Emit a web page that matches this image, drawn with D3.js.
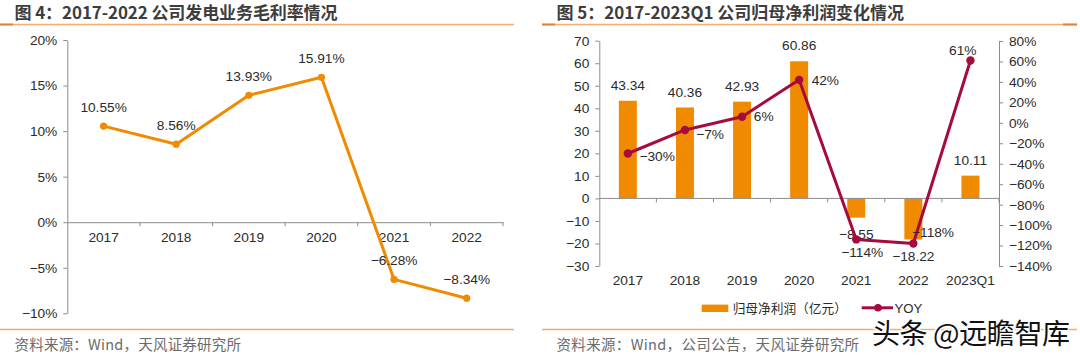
<!DOCTYPE html>
<html><head><meta charset="utf-8">
<script src="https://cdn.jsdelivr.net/npm/d3@7"></script>
<style>
html,body{margin:0;padding:0;background:#fff;}
svg{display:block;}
text{font-family:"Liberation Sans",Arial,"Noto Sans CJK SC",sans-serif;}
.cjk{font-family:"Noto Sans CJK SC","Liberation Sans",sans-serif;}
</style></head>
<body>
<svg id="c" width="1080" height="357"></svg>
<script>
// ---- data ----
const marginYears = ["2017","2018","2019","2020","2021","2022"];
const grossMargin = [10.55, 8.56, 13.93, 15.91, -6.28, -8.34];
const marginTicks = [20, 15, 10, 5, 0, -5, -10];

const profitCats = ["2017","2018","2019","2020","2021","2022","2023Q1"];
const netProfit = [43.34, 40.36, 42.93, 60.86, -8.55, -18.22, 10.11];
const yoyPct = [-30, -7, 6, 42, -114, -118, 61];
const profitTicks = [70, 60, 50, 40, 30, 20, 10, 0, -10, -20, -30];
const yoyTicks = [80, 60, 40, 20, 0, -20, -40, -60, -80, -100, -120, -140];

const titleLeft = "图 4：2017-2022 公司发电业务毛利率情况";
const titleRight = "图 5：2017-2023Q1 公司归母净利润变化情况";
const sourceLeft = "资料来源：Wind，天风证券研究所";
const sourceRight = "资料来源：Wind，公司公告，天风证券研究所";
const legendBar = "归母净利润（亿元）";
const legendLine = "YOY";
const watermark = "头条 @远瞻智库";

// ---- styles ----
const ORANGE = "#F08A00";
const CRIMSON = "#A50B3C";
const AXIS = "#8c8c8c";
const TXT = "#2b2b2b";
const RULE = "#F7AC6E";
const RULE_DARK = "#E9802F";
const FS = 13.7;

const svg = d3.select("#c");
const minus = s => String(s).replace("-", "−");

// ---- frames (titles, rules, sources) ----
function frame(x0, x1, title, src, titleW, srcW, darkEnd) {
  svg.append("line").attr("x1", x0).attr("x2", x1).attr("y1", 24.5).attr("y2", 24.5)
    .attr("stroke", RULE).attr("stroke-width", 1.5);
  svg.append("line").attr("x1", x0).attr("x2", x0 + 13).attr("y1", 24.5).attr("y2", 24.5)
    .attr("stroke", RULE_DARK).attr("stroke-width", 2);
  if (darkEnd) svg.append("line").attr("x1", x1 - 14).attr("x2", x1).attr("y1", 24.5).attr("y2", 24.5)
    .attr("stroke", RULE_DARK).attr("stroke-width", 2);
  svg.append("line").attr("x1", x0).attr("x2", x1).attr("y1", 329.5).attr("y2", 329.5)
    .attr("stroke", RULE).attr("stroke-width", 1.5);
  svg.append("text").attr("class", "cjk").attr("x", x0 + 14.5).attr("y", 18.5)
    .attr("font-size", 17).attr("font-weight", 700).attr("fill", "#3d3d3d")
    .attr("textLength", titleW).attr("lengthAdjust", "spacing").text(title);
  svg.append("text").attr("class", "cjk").attr("x", x0 + 14.5).attr("y", 349.5)
    .attr("font-size", 14.5).attr("fill", "#6b6b6b")
    .attr("textLength", srcW).attr("lengthAdjust", "spacing").text(src);
}
frame(0, 514, titleLeft, sourceLeft, 323, 226.5, false);
frame(542, 1077, titleRight, sourceRight, 347.5, 302.6, true);

// ---- left chart: gross margin line ----
{
  const x = d3.scaleBand().domain(marginYears).range([67.3, 503]);
  const y = d3.scaleLinear().domain([-10, 20]).range([313.3, 40]);
  const g = svg.append("g");

  const ya = g.append("g").attr("transform", "translate(67.3,0)")
    .call(d3.axisLeft(y).tickValues(marginTicks).tickSize(4).tickSizeOuter(0).tickPadding(6)
      .tickFormat(d => minus(d) + "%"));
  ya.selectAll("path,line").attr("stroke", AXIS);
  ya.selectAll("text").attr("font-size", FS).attr("fill", TXT).attr("font-family", null);

  const xa = g.append("g").attr("transform", `translate(0,${y(0)})`)
    .call(d3.axisBottom(x).tickSize(0).tickSizeOuter(0).tickPadding(10));
  xa.selectAll("path").attr("stroke", AXIS);
  xa.selectAll("text").attr("font-size", FS).attr("fill", TXT).attr("font-family", null);
  const bounds = marginYears.map(d => x(d) + x.bandwidth());
  g.selectAll(".bt").data(bounds).join("line")
    .attr("x1", d => d).attr("x2", d => d).attr("y1", y(0)).attr("y2", y(0) + 4).attr("stroke", AXIS);

  const pts = marginYears.map((d, i) => [x(d) + x.bandwidth() / 2, y(grossMargin[i])]);
  g.append("path").attr("d", d3.line()(pts)).attr("fill", "none")
    .attr("stroke", ORANGE).attr("stroke-width", 3).attr("stroke-linejoin", "round");
  g.selectAll(".pt").data(pts).join("circle").attr("cx", d => d[0]).attr("cy", d => d[1])
    .attr("r", 3.6).attr("fill", ORANGE);
  g.selectAll(".lb").data(pts).join("text").attr("x", d => d[0]).attr("y", d => d[1] - 14.2)
    .attr("text-anchor", "middle").attr("font-size", FS).attr("fill", TXT)
    .text((d, i) => minus(grossMargin[i].toFixed(2)) + "%");
}

// ---- right chart: net profit bars + YOY line ----
{
  const x = d3.scaleBand().domain(profitCats).range([599.3, 999]);
  const y = d3.scaleLinear().domain([-30, 70]).range([266, 40.7]);
  const y2 = d3.scaleLinear().domain([-140, 80]).range([266, 41]);
  const g = svg.append("g");

  const ya = g.append("g").attr("transform", "translate(599.3,0)")
    .call(d3.axisLeft(y).tickValues(profitTicks).tickSize(4).tickSizeOuter(0).tickPadding(6)
      .tickFormat(d => minus(d)));
  ya.selectAll("path,line").attr("stroke", AXIS);
  ya.selectAll("text").attr("font-size", FS).attr("fill", TXT).attr("font-family", null);

  const ya2 = g.append("g").attr("transform", "translate(999,0)")
    .call(d3.axisRight(y2).tickValues(yoyTicks).tickSize(4).tickSizeOuter(0).tickPadding(6)
      .tickFormat(d => minus(d) + "%"));
  ya2.selectAll("path,line").attr("stroke", AXIS);
  ya2.selectAll("text").attr("font-size", FS).attr("fill", TXT).attr("font-family", null);

  // category labels at bottom
  const xl = g.append("g").attr("transform", "translate(0,266)")
    .call(d3.axisBottom(x).tickSize(0).tickPadding(9.2));
  xl.select("path").remove();
  xl.selectAll("text").attr("font-size", FS).attr("fill", TXT).attr("font-family", null);

  const bw = x.bandwidth() * 0.315;
  g.selectAll(".bar").data(netProfit).join("rect")
    .attr("x", (d, i) => x(profitCats[i]) + (x.bandwidth() - bw) / 2)
    .attr("width", bw)
    .attr("y", d => y(Math.max(0, d)))
    .attr("height", d => Math.abs(y(d) - y(0)))
    .attr("fill", ORANGE);

  // zero axis line with boundary ticks
  g.append("line").attr("x1", 599.3).attr("x2", 999).attr("y1", y(0)).attr("y2", y(0))
    .attr("stroke", AXIS);
  const bounds = profitCats.map(d => x(d) + x.bandwidth());
  g.selectAll(".bt").data(bounds).join("line")
    .attr("x1", d => d).attr("x2", d => d).attr("y1", y(0)).attr("y2", y(0) + 4).attr("stroke", AXIS);

  // bar labels
  g.selectAll(".bl").data(netProfit).join("text")
    .attr("x", (d, i) => x(profitCats[i]) + x.bandwidth() / 2)
    .attr("y", d => d >= 0 ? y(d) - 10.8 : y(d) + 21.5)
    .attr("text-anchor", "middle").attr("font-size", FS).attr("fill", TXT)
    .text(d => minus(d.toFixed(2)));

  // YOY line
  const pts = profitCats.map((d, i) => [x(d) + x.bandwidth() / 2, y2(yoyPct[i])]);
  g.append("path").attr("d", d3.line()(pts)).attr("fill", "none")
    .attr("stroke", CRIMSON).attr("stroke-width", 3).attr("stroke-linejoin", "round");
  g.selectAll(".yp").data(pts).join("circle").attr("cx", d => d[0]).attr("cy", d => d[1])
    .attr("r", 4.2).attr("fill", CRIMSON);
  // label placement relative to each point: [dx, dy(baseline), anchor]
  const place = [[11.6, 7.2, "start"], [11.3, 8.8, "start"], [11.8, 4.8, "start"], [12.5, 5.5, "start"],
                 [6, 17.1, "middle"], [19.7, -6.8, "middle"], [-7.7, -5.2, "middle"]];
  g.selectAll(".yl").data(pts).join("text")
    .attr("x", (d, i) => d[0] + place[i][0]).attr("y", (d, i) => d[1] + place[i][1])
    .attr("text-anchor", (d, i) => place[i][2]).attr("font-size", FS).attr("fill", TXT)
    .text((d, i) => minus(yoyPct[i]) + "%");

  // legend
  const lg = g.append("g");
  lg.append("rect").attr("x", 701.7).attr("y", 304.6).attr("width", 26.6).attr("height", 7.4).attr("fill", ORANGE);
  lg.append("text").attr("class", "cjk").attr("x", 732.7).attr("y", 312.8).attr("font-size", 12.7)
    .attr("fill", TXT).text(legendBar);
  lg.append("line").attr("x1", 861.7).attr("x2", 893).attr("y1", 307.8).attr("y2", 307.8)
    .attr("stroke", CRIMSON).attr("stroke-width", 3);
  lg.append("circle").attr("cx", 878).attr("cy", 307.8).attr("r", 3.8).attr("fill", CRIMSON);
  lg.append("text").attr("x", 894.5).attr("y", 312.6).attr("font-size", 13.2).attr("fill", TXT).text(legendLine);
}

// ---- watermark ----
svg.append("text").attr("class", "cjk").attr("x", 872).attr("y", 343.5)
  .attr("font-size", 28).attr("fill", "#111").attr("stroke", "#fff").attr("stroke-width", 3)
  .attr("paint-order", "stroke").attr("textLength", 198).attr("lengthAdjust", "spacing")
  .text(watermark);
</script>
</body></html>
